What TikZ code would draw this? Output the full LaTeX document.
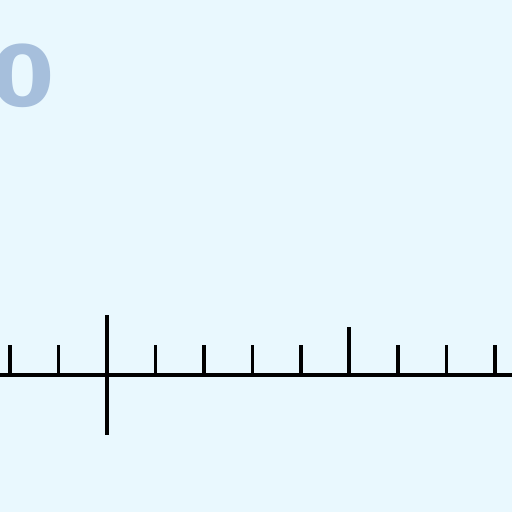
\documentclass[tikz,border=0pt]{standalone}
\usepackage{fontspec}
\newfontfamily\digitfont{DejaVu Sans}
\definecolor{bgcyan}{HTML}{E9F8FE}
\definecolor{digitblue}{HTML}{A6BFDC}
\begin{document}
\begin{tikzpicture}[x=0.025cm, y=-0.025cm, line width=2.2pt]

% --- background ---
\fill[bgcyan] (0,0) rectangle (512,512);
\useasboundingbox (0,0) rectangle (512,512);

% --- digit in the corner ---
\node[text=digitblue, inner sep=0pt, anchor=center, xscale=1.1] (zero) at (23,76)
  {\digitfont\bfseries\fontsize{60pt}{60pt}\selectfont 0};

% --- number line ---
\draw (0,375) -- (512,375);
\foreach \i in {0,1,3,4,5,6,8,9,10} {
  \draw (10+48.5*\i,375) -- (10+48.5*\i,345);
}
\draw[line width=2.8pt] (107,315) -- (107,435);
\draw (349,375) -- (349,327);

\end{tikzpicture}
\end{document}
